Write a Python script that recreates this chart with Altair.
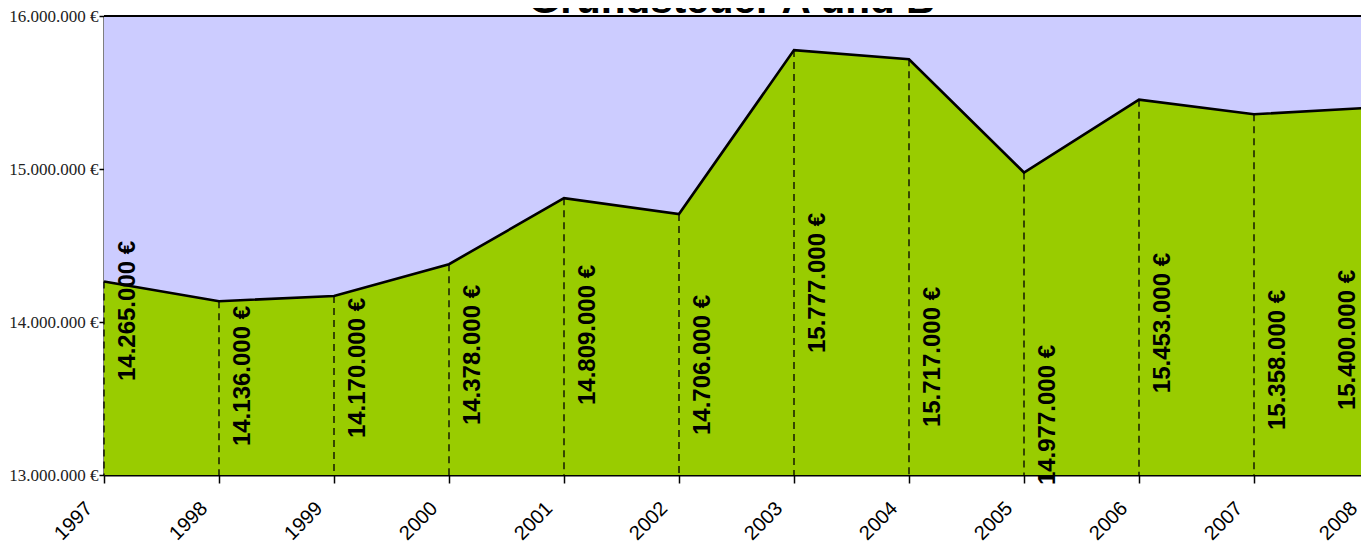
import altair as alt
import pandas as pd

years = [1997, 1998, 1999, 2000, 2001, 2002, 2003, 2004, 2005, 2006, 2007, 2008]
values = [14265000, 14136000, 14170000, 14378000, 14809000, 14706000,
          15777000, 15717000, 14977000, 15453000, 15358000, 15400000]
# where each value label is centred (in euros on the y scale)
label_anchor = [14072000, 13647000, 13699000, 13784000, 13915000, 13719000,
                14255000, 13771000, 13392000, 13993000, 13752000, 13882000]
title_text = "Grundsteuer A und B"
y_ticks = [13000000, 14000000, 15000000, 16000000]

def de_fmt(v):
    return f"{v:,.0f}".replace(",", ".") + " €"

df = pd.DataFrame({
    "year": years,
    "value": values,
    "anchor": label_anchor,
    "label": [de_fmt(v) for v in values],
})

W, H = 1257, 459
XRANGE = 1265  # the last year sits on the page edge
YMIN, YMAX = 13000000, 16000000

x_scale = alt.Scale(domain=[1997, 2008], range=[0, XRANGE], nice=False, zero=False)
x_enc = alt.X("year:Q", scale=x_scale,
              axis=alt.Axis(values=years, format="d", labelAngle=-45,
                            labelAlign="right", labelBaseline="middle",
                            labelFontSize=20, labelFont="Liberation Sans",
                            labelColor="#000", labelPadding=22, labelOffset=-15,
                            tickSize=8, tickColor="#000", tickWidth=1.5,
                            domainColor="#000", domainWidth=2, grid=False,
                            title=None, labelOverlap=False))
y_scale = alt.Scale(domain=[YMIN, YMAX], nice=False, zero=False)
y_enc = alt.Y("value:Q", scale=y_scale,
              axis=alt.Axis(values=y_ticks, grid=False, title=None,
                            labelExpr="replace(format(datum.value, ',.0f'), regexp(',', 'g'), '.') + ' €'",
                            labelFont="Liberation Serif", labelFontSize=17,
                            labelColor="#222", labelPadding=1,
                            tickSize=5, tickColor="#000", tickWidth=1.5,
                            domainColor="#000", domainWidth=2))

base = alt.Chart(df)

sky = base.mark_area(color="#CCCCFF", opacity=1).encode(
    x=x_enc, y=y_enc, y2=alt.datum(YMAX))

area = base.mark_area(color="#99CC00", opacity=1).encode(
    x="year:Q", y=alt.Y("value:Q", scale=y_scale), y2=alt.datum(YMIN))

top_border = base.mark_rule(color="#000", strokeWidth=2).encode(
    x=alt.datum(1997), x2=alt.datum(2008), y=alt.datum(YMAX))

line = base.mark_line(color="#000", strokeWidth=2.6).encode(
    x="year:Q", y=alt.Y("value:Q", scale=y_scale))

rules = base.mark_rule(color="#000", strokeWidth=1.3, strokeDash=[7, 5]).encode(
    x="year:Q", y=alt.Y("value:Q", scale=y_scale), y2=alt.datum(YMIN))

labels_main = base.transform_filter("datum.year < 2008").mark_text(
    angle=270, align="center", baseline="alphabetic", dy=31,
    font="Liberation Sans", fontSize=24, fontWeight="bold", color="#000").encode(
    x="year:Q", y=alt.Y("anchor:Q", scale=y_scale), text="label:N")

labels_last = base.transform_filter("datum.year >= 2008").mark_text(
    angle=270, align="center", baseline="alphabetic", dy=-14,
    font="Liberation Sans", fontSize=24, fontWeight="bold", color="#000").encode(
    x="year:Q", y=alt.Y("anchor:Q", scale=y_scale), text="label:N")

title = alt.Chart(pd.DataFrame({"t": [title_text]})).mark_text(
    align="center", baseline="alphabetic", font="Liberation Sans",
    fontSize=40.5, fontWeight="bold", color="#000").encode(
    x=alt.value(628), y=alt.value(-3), text="t:N")

chart = alt.layer(sky, area, rules, line, top_border, labels_main, labels_last, title).properties(
    width=W, height=H,
    autosize=alt.AutoSizeParams(type="none"),
    padding={"left": 96, "top": 8, "right": 0, "bottom": 72},
).configure_view(fill=None, stroke=None)

chart.save("out.html", embed_options={"renderer": "svg", "actions": False})
